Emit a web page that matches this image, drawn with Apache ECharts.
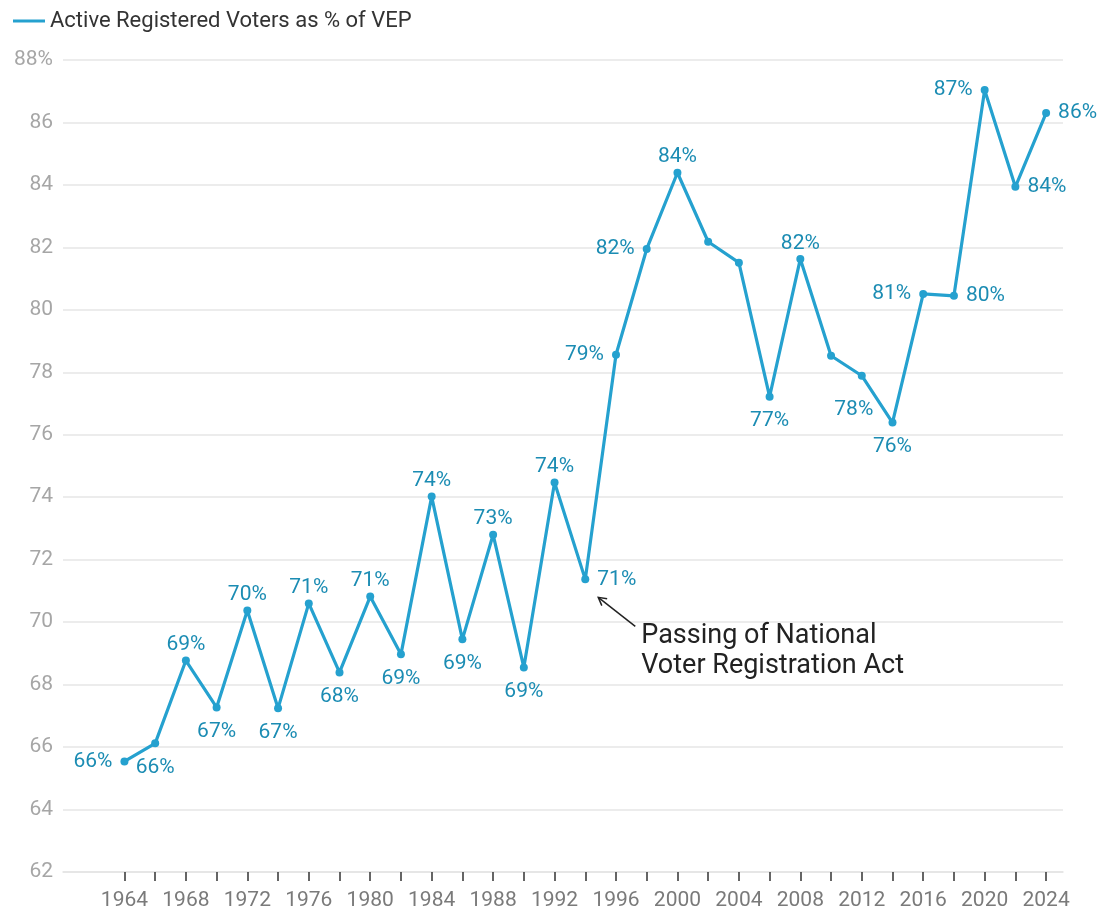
<!DOCTYPE html>
<html>
<head>
<meta charset="utf-8">
<script src="https://cdn.jsdelivr.net/npm/echarts@6/dist/echarts.min.js"></script>
<style>html,body{margin:0;padding:0;background:#fff}#c{width:1103px;height:911px}</style>
</head>
<body>
<div id="c"></div>
<script>
const years = [1964,1966,1968,1970,1972,1974,1976,1978,1980,1982,1984,1986,1988,1990,1992,1994,1996,1998,2000,2002,2004,2006,2008,2010,2012,2014,2016,2018,2020,2022,2024];
const activeRegPct = [65.54,66.12,68.77,67.27,70.37,67.24,70.60,68.39,70.82,68.97,74.02,69.45,72.80,68.55,74.47,71.37,78.56,81.95,84.39,82.18,81.51,77.22,81.63,78.53,77.89,76.39,80.51,80.45,87.04,83.94,86.30];
const yTicks = [62,64,66,68,70,72,74,76,78,80,82,84,86,88];
const seriesName = 'Active Registered Voters as % of VEP';
const annotationText = ['Passing of National', 'Voter Registration Act'];
const annotationYear = 1994;

// label placement (style only)
const labelPos = ['left','bottom','top','bottom','top','bottom','top','bottom','top','bottom','top','bottom','top','bottom','top','right','left','left','top',null,null,'bottom','top',null,'bottom','bottom','left','right','left','right','right'];
const labelOffset = {24:[-8,10], 25:[0,0]};

const LINE = '#25a1cf';
const LABEL = '#1b8cb3';
const FS = 21;

const data = years.map((y,i)=>{
  const p = labelPos[i];
  const d = {value:[y, activeRegPct[i]]};
  if (p) {
    const dist = (p==='left'||p==='right') ? 8 : (p==='top' ? 1 : 10);
    d.label = {show:true, position:p, distance:dist};
    if (labelOffset[i]) d.label.offset = labelOffset[i];
  } else d.label = {show:false};
  return d;
});

const chart = echarts.init(document.getElementById('c'));
const option = {
  animation:false,
  textStyle:{fontFamily:'Roboto'},
  legend:{
    left:8, top:5, icon:'rect', itemWidth:32, itemHeight:3, itemGap:10,
    textStyle:{color:'#333', fontSize:22, fontFamily:'Roboto'},
    data:[seriesName]
  },
  grid:{left:63, right:40, top:60, bottom:38, containLabel:false},
  xAxis:{
    type:'value', min:1960, max:2025.1,
    axisLine:{show:true, lineStyle:{color:'#e3e3e3', width:1.5}},
    axisTick:{show:true, customValues: years, length:9, lineStyle:{color:'#333', width:1.5}},
    axisLabel:{customValues: years.filter(y=>y%4===0), color:'#7a7a7a', fontSize:FS, margin:18, fontFamily:'Roboto', formatter: v=>String(v)},
    splitLine:{show:false}
  },
  yAxis:{
    type:'value', min:62, max:88, interval:2,
    axisLine:{show:false}, axisTick:{show:false},
    axisLabel:{color:'#a6a6a6', fontSize:FS, margin:10, fontFamily:'Roboto', formatter: v=> v===88 ? v+'%' : String(v)},
    splitLine:{lineStyle:{color:'#e6e6e6', width:1.5}}
  },
  series:[{
    name:seriesName, type:'line', data:data,
    lineStyle:{color:LINE, width:3.2},
    itemStyle:{color:LINE},
    symbol:'circle', symbolSize:8, showAllSymbol:true,
    label:{color:LABEL, fontSize:FS, fontFamily:'Roboto', formatter: p=> Math.round(p.value[1])+'%'}
  }]
};
chart.setOption(option);

// annotation arrow + text anchored to the 1994 data point
const idx = years.indexOf(annotationYear);
const pt = chart.convertToPixel({xAxisIndex:0,yAxisIndex:0},[annotationYear, activeRegPct[idx]]);
const ax = pt[0]+13, ay = pt[1]+18;   // arrow tip
const bx = pt[0]+50, by = pt[1]+47;   // arrow tail
const ang = Math.atan2(by-ay, bx-ax);
const hl = 9, ha = 0.5;
chart.setOption({
  graphic:[
    {type:'line', shape:{x1:bx,y1:by,x2:ax,y2:ay}, style:{stroke:'#222', lineWidth:1.5}, silent:true},
    {type:'polyline', shape:{points:[[ax+hl*Math.cos(ang-ha), ay+hl*Math.sin(ang-ha)],[ax,ay],[ax+hl*Math.cos(ang+ha), ay+hl*Math.sin(ang+ha)]]}, style:{stroke:'#222', lineWidth:1.5, fill:null}, silent:true},
    {type:'text', x:pt[0]+56, y:pt[1]+42, style:{text:annotationText.join('\n'), font:'27px Roboto', fill:'#222', lineHeight:30}, silent:true}
  ]
});
</script>
</body>
</html>
